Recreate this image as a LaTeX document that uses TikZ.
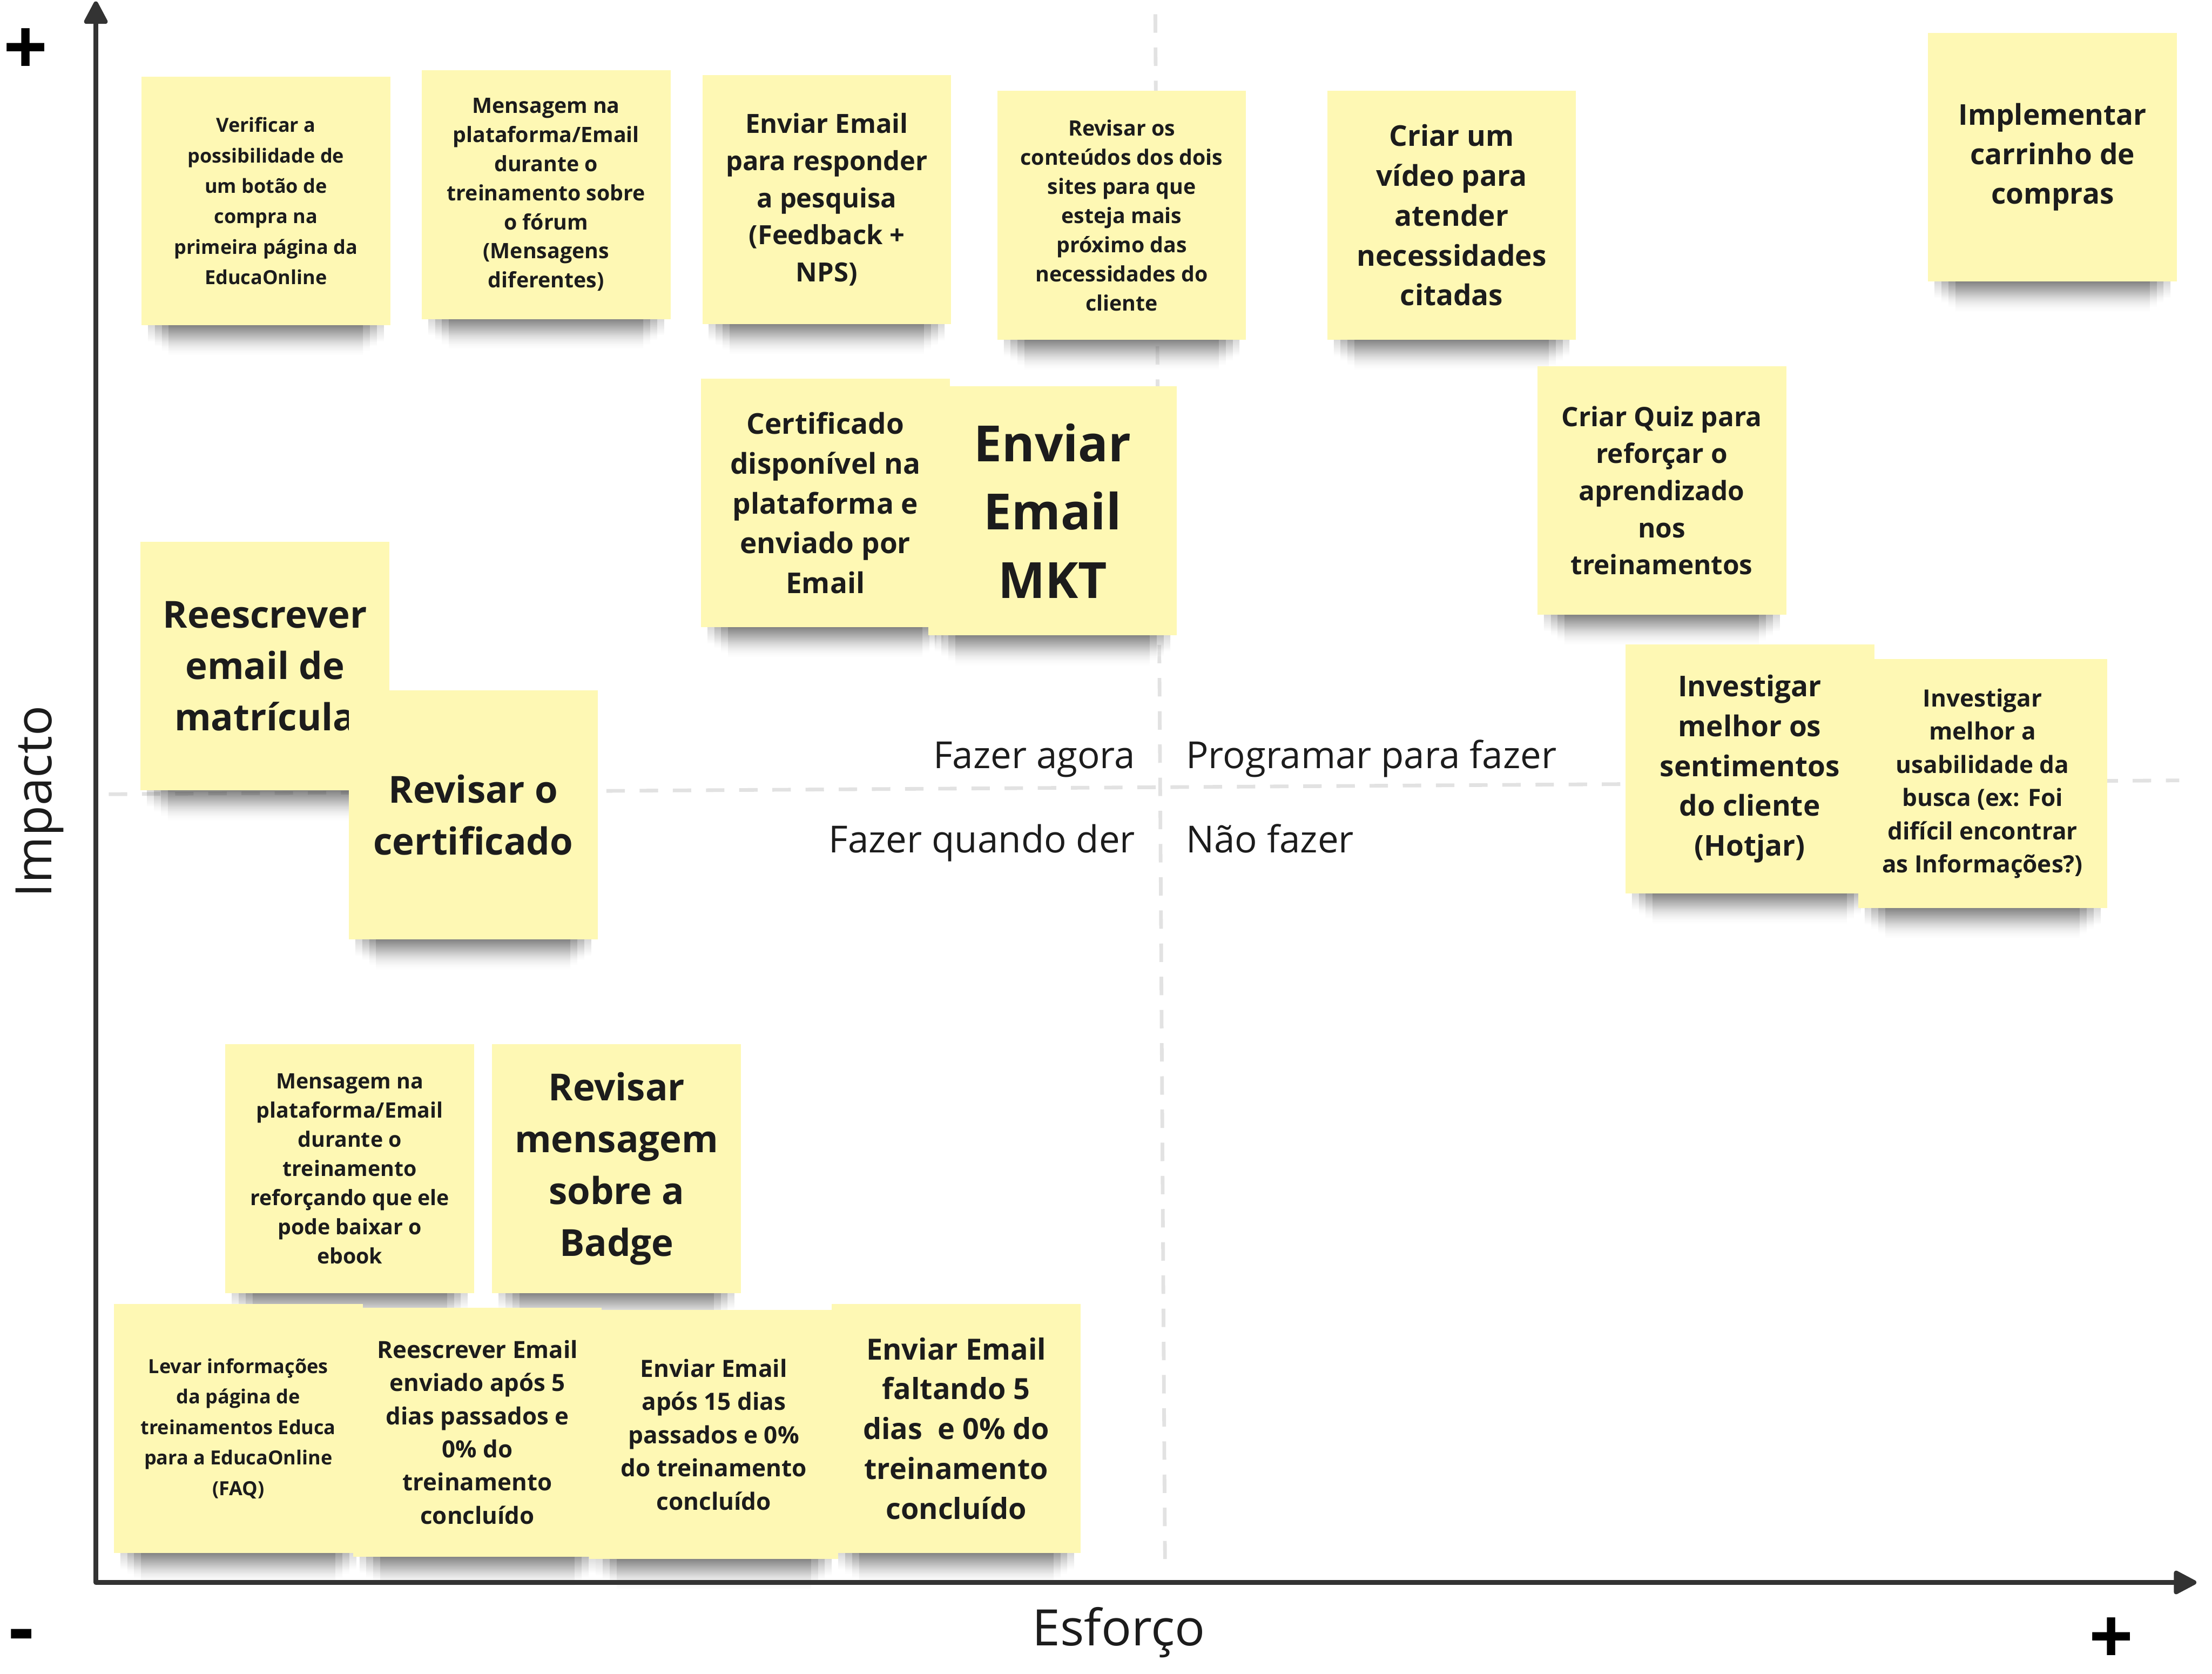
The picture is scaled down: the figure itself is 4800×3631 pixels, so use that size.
\documentclass[tikz,border=0pt]{standalone}
\usepackage{fontspec}
\setmainfont{Open Sans}
\usepackage{xcolor}
\usetikzlibrary{arrows.meta}
\usetikzlibrary{backgrounds}
\definecolor{stickyyellow}{RGB}{254,248,180}
\definecolor{inkdark}{RGB}{28,28,28}
\definecolor{axisgray}{RGB}{51,51,51}
\definecolor{dashgray}{RGB}{226,226,226}
\newcommand{\stickyfont}[2]{\fontsize{#1}{#2}\selectfont\bfseries}

\tikzset{
  sticky/.style={fill=stickyyellow, text=inkdark, align=center, inner sep=0pt,
    minimum width=54mm, minimum height=54mm},
  quadline/.style={dashgray, line width=0.8mm, dash pattern=on 4mm off 3.2mm},
  axisline/.style={axisgray, line width=1mm, line join=round},
  quadlabel/.style={font=\fontsize{23}{28}\selectfont, text=inkdark, inner sep=0pt},
  axislabel/.style={font=\fontsize{31}{36}\selectfont, text=inkdark, inner sep=0pt},
  signlabel/.style={font=\fontsize{48}{50}\selectfont\bfseries, text=black, inner sep=0pt},
}

\begin{document}
\begin{tikzpicture}[x=0.1mm, y=-0.1mm]
\useasboundingbox (0,0) rectangle (4800,3631);

% quadrant labels
\node[quadlabel, anchor=base east] (agora) at (2464,1667) {Fazer agora};
\node[quadlabel, anchor=base west] (programar) at (2573,1667) {Programar para fazer};
\node[quadlabel, anchor=base east] (quandoder) at (2464,1850) {Fazer quando der};
\node[quadlabel, anchor=base west] (naofazer) at (2573,1850) {Não fazer};

% sticky notes
\node[sticky, font=\stickyfont{12}{18.8}] (verificar) at (577,436)
  {Verificar a\\possibilidade de\\um botão de\\compra na\\primeira página da\\EducaOnline};
\node[sticky, font=\stickyfont{13.1}{18}] (forum) at (1185,422)
  {Mensagem na\\plataforma/Email\\durante o\\treinamento sobre\\o fórum\\(Mensagens\\diferentes)};
\node[sticky, font=\stickyfont{16.3}{22.9}] (pesquisa) at (1794,433)
  {Enviar Email\\para responder\\a pesquisa\\(Feedback +\\NPS)};
\node[sticky, font=\stickyfont{13.1}{18}] (conteudos) at (2434,467)
  {Revisar os\\conteúdos dos dois\\sites para que\\esteja mais\\próximo das\\necessidades do\\cliente};
\node[sticky, font=\stickyfont{17.7}{24.6}] (video) at (3150,467)
  {Criar um\\vídeo para\\atender\\necessidades\\citadas};
\node[sticky, font=\stickyfont{17.7}{24.4}] (carrinho) at (4454,341)
  {Implementar\\carrinho de\\compras};
\node[sticky, font=\stickyfont{17.7}{24.6}] (certificado) at (1791,1091)
  {Certificado\\disponível na\\plataforma e\\enviado por\\Email};
\node[sticky, font=\stickyfont{30.8}{42.2}] (mkt) at (2284,1108)
  {Enviar\\Email\\MKT};
\node[sticky, font=\stickyfont{16.5}{22.9}] (quiz) at (3606,1064)
  {Criar Quiz para\\reforçar o\\aprendizado\\nos\\treinamentos};
\node[sticky, font=\stickyfont{23}{31.8}] (matricula) at (575,1445)
  {Reescrever\\email de\\matrícula};
\node[sticky, font=\stickyfont{23}{32.2}] (revcert) at (1027,1768)
  {Revisar o\\certificado};
\node[sticky, font=\stickyfont{17.7}{24.6}] (hotjar) at (3797,1668)
  {Investigar\\melhor os\\sentimentos\\do cliente\\(Hotjar)};
\node[sticky, font=\stickyfont{14.7}{20.5}] (busca) at (4302,1700)
  {Investigar\\melhor a\\usabilidade da\\busca (ex: Foi\\difícil encontrar\\as Informações?)};
\node[sticky, font=\stickyfont{13.1}{18}] (ebook) at (759,2535)
  {Mensagem na\\plataforma/Email\\durante o\\treinamento\\reforçando que ele\\pode baixar o\\ebook};
\node[sticky, font=\stickyfont{23}{32}] (badge) at (1338,2535)
  {Revisar\\mensagem\\sobre a\\Badge};
\node[sticky, font=\stickyfont{12}{18.8}] (faq) at (517,3099)
  {Levar informações\\da página de\\treinamentos Educa\\para a EducaOnline\\(FAQ)};
\node[sticky, font=\stickyfont{14.6}{20.5}] (email5) at (1036,3107)
  {Reescrever Email\\enviado após 5\\dias passados e\\0\% do\\treinamento\\concluído};
\node[sticky, font=\stickyfont{14.7}{20.5}] (email15) at (1549,3112)
  {Enviar Email\\após 15 dias\\passados e 0\%\\do treinamento\\concluído};
\node[sticky, font=\stickyfont{18}{24.6}] (faltando) at (2075,3099)
  {Enviar Email\\faltando 5\\dias\ \ e 0\% do\\treinamento\\concluído};

% dashed quadrant lines and soft shadows under the notes
\begin{pgfonlayer}{background}
\draw[quadline] (2507,31) -- (2528,3382);
\draw[quadline] (236,1723) -- (4729,1693);
\foreach \n in {verificar,forum,pesquisa,conteudos,video,carrinho,certificado,mkt,quiz,
  matricula,revcert,hotjar,busca,ebook,badge,faq,email5,email15,faltando}
  \foreach \k in {0,...,3}
    \shade[top color=black, bottom color=white, opacity=0.19]
      ([xshift={(1.5+1.5*\k)*1mm}, yshift=1mm]\n.south west)
      rectangle ([xshift={-(1.5+1.5*\k)*1mm}, yshift={-(3.5+1*\k)*1mm}]\n.south east);
\end{pgfonlayer}

% axes
\coordinate (ytop) at (208,3);
\coordinate (origin) at (208,3433);
\coordinate (xend) at (4766,3433);
\draw[axisline, {Triangle[length=5.5mm, width=5.5mm, round]}-{Triangle[length=5.5mm, width=5.5mm, round]}]
  (ytop) -- (origin) -- (xend);
\node[axislabel, rotate=90] (impacto) at (86,1739) {Impacto};
\node[axislabel] (esforco) at (2428,3541) {Esforço};
\node[signlabel] (ymais) at (56,112) {+};
\node[signlabel] (ymenos) at (46,3562) {-};
\node[signlabel] (xmais) at (4582,3560) {+};
\end{tikzpicture}
\end{document}
